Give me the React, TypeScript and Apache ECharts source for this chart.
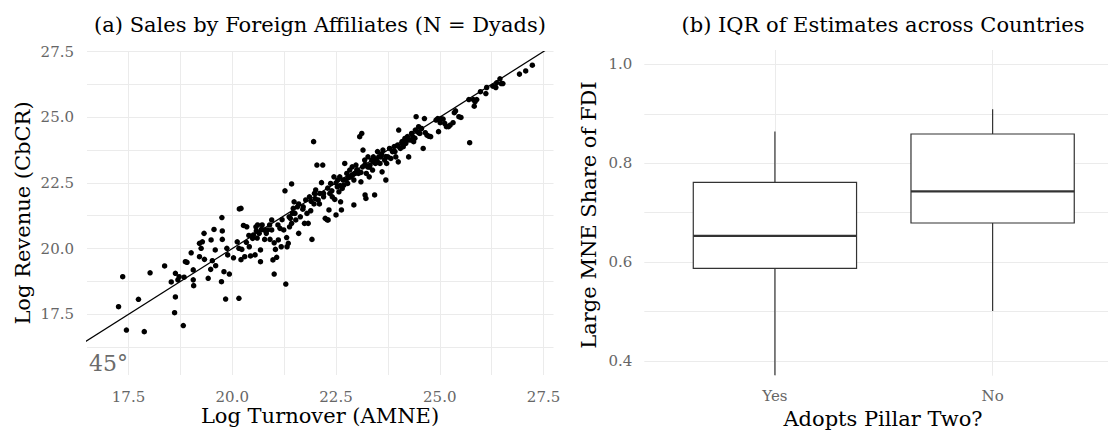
import React, { useEffect, useRef } from "react";
import * as echarts from "echarts";

// ---------- Panel (a): scatter data ----------
const turnover = [
  17.26, 17.36, 17.45, 17.74, 17.88, 18.02, 18.37, 18.53, 18.61, 18.63,
  18.63, 18.69, 18.72, 18.82, 18.84, 18.87, 18.91, 19.01, 19.06, 19.06,
  19.07, 19.21, 19.21, 19.25, 19.28, 19.32, 19.33, 19.42, 19.48, 19.49,
  19.52, 19.56, 19.59, 19.6, 19.74, 19.75, 19.76, 19.76, 19.8, 19.84,
  19.87, 19.89, 19.93, 20.03, 20.17, 20.21, 20.16, 20.12, 20.16, 20.21,
  20.23, 20.27, 20.3, 20.34, 20.35, 20.41, 20.44, 20.49, 20.51, 20.55,
  20.57, 20.58, 20.61, 20.65, 20.68, 20.68, 20.7, 20.72, 20.76, 20.78,
  20.82, 20.85, 20.91, 20.95, 20.95, 20.98, 21.01, 21.01, 21.04, 21.07,
  21.11, 21.15, 21.18, 21.24, 21.27, 21.29, 21.31, 21.32, 21.35, 21.37,
  21.38, 21.4, 21.43, 21.43, 21.45, 21.47, 21.49, 21.51, 21.53, 21.57,
  21.6, 21.64, 21.71, 21.74, 21.77, 21.8, 21.83, 21.86, 21.89, 21.92,
  21.96, 21.97, 21.98, 22.01, 22.04, 22.07, 22.1, 22.11, 22.15, 22.18,
  22.2, 22.24, 22.29, 22.31, 22.33, 22.35, 22.37, 22.41, 22.45, 22.47,
  22.5, 22.53, 22.54, 22.57, 22.59, 22.61, 22.63, 22.65, 22.67, 22.69,
  22.71, 22.74, 22.76, 22.78, 22.83, 22.86, 22.89, 22.93, 22.93, 22.96,
  22.98, 23.02, 23.04, 23.07, 23.1, 23.12, 23.14, 23.15, 23.19, 23.2,
  23.22, 23.23, 23.26, 23.27, 23.3, 23.32, 23.36, 23.38, 23.4, 23.43,
  23.45, 23.47, 23.5, 23.53, 23.56, 23.58, 23.61, 23.63, 23.67, 23.7,
  23.72, 23.75, 23.79, 23.82, 23.86, 23.9, 23.92, 23.94, 23.98, 24.01,
  24.0, 24.05, 24.09, 24.12, 24.16, 24.18, 24.22, 24.25, 24.29, 24.32,
  24.35, 24.37, 24.41, 24.43, 24.46, 24.49, 24.52, 24.56, 24.6, 24.63,
  24.65, 24.69, 24.73, 24.78, 24.91, 24.95, 24.97, 25.01, 25.03, 25.08,
  25.12, 25.16, 25.21, 25.25, 25.32, 25.35, 25.38, 25.46, 25.51, 25.72,
  25.7, 25.81, 25.83, 25.85, 25.89, 25.98, 26.11, 26.13, 26.28, 26.35,
  26.37, 26.45, 26.48, 26.52, 26.92, 27.07, 27.23,
  21.6, 21.7, 21.9, 22.0, 22.2, 22.3, 22.4, 22.5, 22.6, 22.8,
  22.9, 23.0, 23.1, 23.2, 23.3, 23.4, 23.5, 23.6, 23.7, 23.9,
  24.0, 24.1, 24.2, 24.4, 24.5, 20.4, 20.6, 20.9, 21.1, 21.2,
];

const revenue = [
  17.79, 18.93, 16.9, 18.07, 16.84, 19.08, 19.34, 18.73, 17.56, 18.16,
  19.06, 18.81, 18.93, 17.07, 18.91, 19.5, 19.48, 19.84, 19.19, 18.81,
  18.59, 19.69, 20.2, 20.01, 20.26, 20.58, 19.59, 18.87, 19.21, 20.33,
  19.54, 20.73, 19.95, 19.35, 18.74, 21.18, 20.67, 20.35, 19.12, 18.08,
  20.01, 19.76, 19.03, 19.65, 21.51, 21.53, 18.11, 20.26, 20.01, 19.58,
  19.97, 20.88, 19.69, 20.24, 20.83, 20.07, 19.72, 20.39, 20.52, 19.76,
  20.83, 20.67, 20.9, 20.58, 19.95, 19.5, 20.73, 20.9, 20.71, 20.35,
  20.58, 20.71, 20.35, 20.71, 21.09, 19.57, 19.03, 20.22, 19.97, 19.67,
  20.33, 20.77, 20.07, 20.71, 22.2, 18.65, 20.42, 20.07, 20.2, 21.21,
  20.83, 21.15, 22.46, 20.96, 21.34, 21.53, 21.78, 21.34, 21.09, 21.59,
  20.58, 21.21, 21.59, 20.96, 21.85, 21.34, 20.96, 21.97, 21.44, 20.35,
  24.07, 21.7, 22.1, 22.23, 23.18, 21.85, 21.7, 22.1, 22.51, 23.18,
  21.97, 21.15, 21.09, 21.09, 21.47, 22.1, 22.48, 21.97, 22.73, 21.87,
  21.28, 22.35, 22.61, 22.16, 22.73, 21.78, 21.47, 22.29, 22.61, 22.42,
  23.24, 22.61, 22.86, 22.48, 22.99, 22.73, 23.11, 21.66, 22.61, 22.86,
  23.18, 22.99, 22.86, 24.26, 22.54, 24.38, 23.11, 23.75, 23.37, 22.04,
  21.91, 22.86, 23.11, 23.49, 22.73, 23.18, 23.37, 22.99, 23.49, 22.04,
  23.24, 23.37, 23.69, 23.49, 23.24, 23.49, 22.92, 23.75, 23.37, 22.61,
  23.24, 23.49, 23.81, 23.43, 23.69, 23.88, 23.69, 23.49, 23.94, 24.51,
  23.3, 23.81, 24.07, 23.88, 24.19, 24.0, 24.26, 23.49, 24.13, 24.38,
  24.26, 24.07, 24.51, 25.02, 24.45, 24.64, 24.38, 24.57, 23.81, 24.95,
  24.41, 24.32, 24.28, 24.26, 24.89, 24.95, 24.45, 24.79, 24.95, 24.93,
  24.76, 24.64, 24.64, 24.7, 24.79, 25.17, 25.24, 25.02, 24.99, 24.03,
  25.67, 25.67, 25.42, 25.59, 25.67, 25.97, 25.9, 26.13, 26.18, 26.13,
  26.31, 26.46, 26.28, 26.28, 26.64, 26.76, 26.98,
  21.7, 21.5, 21.8, 21.9, 22.1, 22.3, 22.2, 22.5, 22.4, 22.7,
  22.8, 23.0, 22.9, 23.2, 23.1, 23.3, 23.3, 23.6, 23.5, 23.7,
  23.9, 24.0, 24.1, 24.2, 24.4, 20.5, 20.4, 20.9, 20.9, 21.1,
];

const diagonal = [15, 28];

const scatterXTicks = [17.5, 18.75, 20, 21.25, 22.5, 23.75, 25, 26.25, 27.5];
const scatterXLabels = [17.5, 20, 22.5, 25, 27.5];
const scatterYTicks = [16.25, 17.5, 18.75, 20, 21.25, 22.5, 23.75, 25, 26.25, 27.5];
const scatterYLabels = [17.5, 20, 22.5, 25, 27.5];

// ---------- Panel (b): box summaries ----------
const pillarCategories = ["Yes", "No"];
const whiskerLow = [0.371, 0.501];
const lowerQuartile = [0.587, 0.679];
const medianShare = [0.653, 0.743];
const upperQuartile = [0.761, 0.859];
const whiskerHigh = [0.864, 0.909];

const boxYTicks = [0.4, 0.5, 0.6, 0.7, 0.8, 0.9, 1.0];
const boxYLabels = [0.4, 0.6, 0.8, 1.0];
const boxXTicks = [1, 2];

const FONT = "DejaVu Serif";
const GRID = "#ebebeb";
const TICK = "#666666";
const BOXLINE = "#333333";

export default function App() {
  const ref = useRef<HTMLDivElement>(null);

  useEffect(() => {
    if (!ref.current) return;
    const chart = echarts.init(ref.current, undefined, { renderer: "svg" });

    const points = turnover.map((x, i) => [x, revenue[i]]);
    const boxData = pillarCategories.map((_, i) => [
      i + 1,
      whiskerLow[i],
      lowerQuartile[i],
      medianShare[i],
      upperQuartile[i],
      whiskerHigh[i],
    ]);

    const labelStyle = { color: TICK, fontFamily: FONT, fontSize: 15, lineHeight: 15 };

    const textStyle = (text: string, size = 21) => ({
      text,
      fontFamily: FONT,
      fontSize: size,
      fill: "#000000",
      align: "center",
      verticalAlign: "middle",
    });

    chart.setOption({
      animation: false,
      backgroundColor: "#ffffff",
      grid: [
        { left: 87, top: 51.5, width: 466.5, height: 323.5, containLabel: false },
        { left: 644.3, top: 50, width: 463.7, height: 325.7, containLabel: false },
      ],
      xAxis: [
        {
          type: "value",
          gridIndex: 0,
          min: 16.5,
          max: 27.74,
          axisLine: { show: false },
          axisTick: { show: false, customValues: scatterXTicks },
          axisLabel: {
            ...labelStyle,
            margin: 14,
            customValues: scatterXLabels,
            formatter: (v: number) => v.toFixed(1),
          },
          splitLine: { show: true, lineStyle: { color: GRID, width: 1 } },
        },
        {
          type: "value",
          gridIndex: 1,
          min: 0.4,
          max: 2.53,
          axisLine: { show: false },
          axisTick: { show: false, customValues: boxXTicks },
          axisLabel: {
            ...labelStyle,
            margin: 13,
            customValues: boxXTicks,
            formatter: (v: number) => pillarCategories[Math.round(v) - 1] ?? "",
          },
          splitLine: { show: true, lineStyle: { color: GRID, width: 1 } },
        },
      ],
      yAxis: [
        {
          type: "value",
          gridIndex: 0,
          min: 15.19,
          max: 27.5,
          axisLine: { show: false },
          axisTick: { show: false, customValues: scatterYTicks },
          axisLabel: {
            ...labelStyle,
            margin: 13,
            customValues: scatterYLabels,
            formatter: (v: number) => v.toFixed(1),
          },
          splitLine: { show: true, lineStyle: { color: GRID, width: 1 } },
        },
        {
          type: "value",
          gridIndex: 1,
          min: 0.37,
          max: 1.029,
          axisLine: { show: false },
          axisTick: { show: false, customValues: boxYTicks },
          axisLabel: {
            ...labelStyle,
            margin: 12,
            customValues: boxYLabels,
            formatter: (v: number) => v.toFixed(1),
          },
          splitLine: { show: true, lineStyle: { color: GRID, width: 1 } },
        },
      ],
      series: [
        {
          type: "scatter",
          xAxisIndex: 0,
          yAxisIndex: 0,
          data: points,
          symbol: "circle",
          symbolSize: 5.5,
          itemStyle: { color: "#000000", opacity: 1 },
          silent: true,
        },
        {
          type: "line",
          xAxisIndex: 0,
          yAxisIndex: 0,
          data: [
            [diagonal[0], diagonal[0]],
            [diagonal[1], diagonal[1]],
          ],
          showSymbol: false,
          symbol: "none",
          clip: true,
          lineStyle: { color: "#000000", width: 1.2 },
          silent: true,
        },
        {
          type: "custom",
          xAxisIndex: 1,
          yAxisIndex: 1,
          data: boxData,
          encode: { x: 0, y: [1, 2, 3, 4, 5] },
          renderItem: (params: any, api: any) => {
            const x = api.value(0);
            const half = 0.375;
            const cx = api.coord([x, api.value(3)])[0];
            const left = api.coord([x - half, api.value(3)])[0];
            const right = api.coord([x + half, api.value(3)])[0];
            const yLow = api.coord([x, api.value(1)])[1];
            const yQ1 = api.coord([x, api.value(2)])[1];
            const yMed = api.coord([x, api.value(3)])[1];
            const yQ3 = api.coord([x, api.value(4)])[1];
            const yHigh = api.coord([x, api.value(5)])[1];
            const s = { stroke: BOXLINE, lineWidth: 1.2 };
            return {
              type: "group",
              children: [
                { type: "line", shape: { x1: cx, y1: yHigh, x2: cx, y2: yQ3 }, style: s },
                { type: "line", shape: { x1: cx, y1: yQ1, x2: cx, y2: yLow }, style: s },
                {
                  type: "rect",
                  shape: { x: left, y: yQ3, width: right - left, height: yQ1 - yQ3 },
                  style: { fill: "#ffffff", stroke: BOXLINE, lineWidth: 1.2 },
                },
                {
                  type: "line",
                  shape: { x1: left, y1: yMed, x2: right, y2: yMed },
                  style: { stroke: BOXLINE, lineWidth: 2.4 },
                },
              ],
            };
          },
          silent: true,
        },
      ],
      graphic: [
        { type: "text", x: 320, y: 25, style: textStyle("(a) Sales by Foreign Affiliates (N = Dyads)") },
        { type: "text", x: 883, y: 25, style: textStyle("(b) IQR of Estimates across Countries") },
        { type: "text", x: 320, y: 416, style: textStyle("Log Turnover (AMNE)") },
        { type: "text", x: 883, y: 419, style: textStyle("Adopts Pillar Two?") },
        {
          type: "text",
          x: 23,
          y: 213,
          rotation: Math.PI / 2,
          style: textStyle("Log Revenue (CbCR)"),
        },
        {
          type: "text",
          x: 589,
          y: 215,
          rotation: Math.PI / 2,
          style: textStyle("Large MNE Share of FDI"),
        },
        {
          type: "text",
          x: 89,
          y: 363,
          style: {
            text: "45°",
            fontFamily: FONT,
            fontSize: 22,
            fill: "#6b6b6b",
            align: "left",
            verticalAlign: "middle",
          },
        },
      ],
    });

    return () => chart.dispose();
  }, []);

  return (
    <div
      ref={ref}
      style={{ position: "absolute", left: 0, top: 0, width: 1108, height: 434 }}
    />
  );
}
